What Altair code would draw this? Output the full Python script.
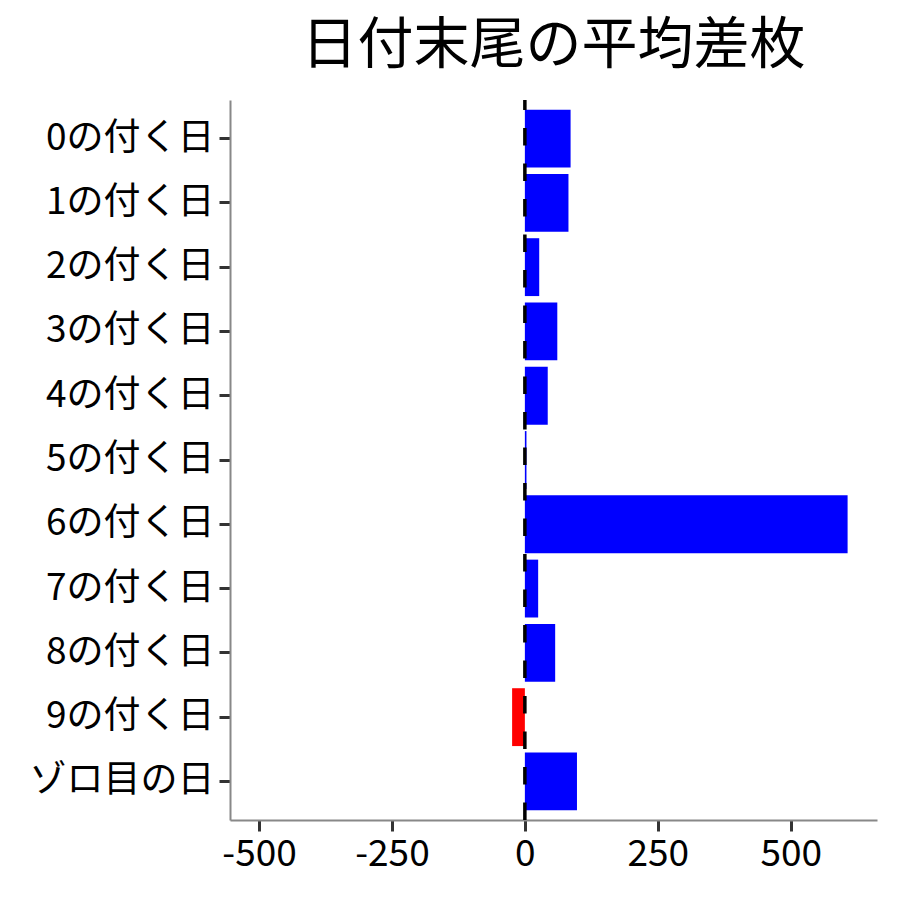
import altair as alt
import pandas as pd

categories = ["0の付く日", "1の付く日", "2の付く日", "3の付く日", "4の付く日",
              "5の付く日", "6の付く日", "7の付く日", "8の付く日", "9の付く日", "ゾロ目の日"]
values = [86, 82, 27, 61, 43, 3, 607, 25, 57, -24, 98]
x_ticks = [-500, -250, 0, 250, 500]

df = pd.DataFrame({"cat": categories, "val": values})
df["sign"] = ["pos" if v >= 0 else "neg" for v in values]

FONT = "Noto Sans CJK JP"
W, H = 647, 720

bars = alt.Chart(df).mark_bar().encode(
    y=alt.Y("cat:N", sort=categories,
            scale=alt.Scale(paddingInner=0.1, paddingOuter=0.15),
            axis=alt.Axis(title=None, labelFontSize=37, labelFont=FONT, labelColor="black",
                          tickColor="#333333", tickWidth=3, tickSize=11, labelPadding=5,
                          labelLimit=400,
                          domainColor="#888888", domainWidth=2, grid=False)),
    x=alt.X("val:Q", scale=alt.Scale(domain=[-554.6, 662.3], nice=False, zero=False),
            axis=alt.Axis(title=None, values=x_ticks, labelFontSize=37, labelFont=FONT,
                          labelColor="black", tickColor="#333333", tickWidth=3, tickSize=11,
                          labelPadding=5, domainColor="#888888", domainWidth=2, grid=False,
                          labelFlush=False, labelExpr="'' + datum.value")),
    color=alt.Color("sign:N", scale=alt.Scale(domain=["pos", "neg"], range=["#0000FF", "#FF0000"]),
                    legend=None),
)

rule = alt.Chart(pd.DataFrame({"z": [0]})).mark_rule(
    color="black", strokeWidth=3.5, strokeDash=[17.5, 18], strokeCap="butt"
).encode(x="z:Q", y=alt.value(H), y2=alt.value(0))

chart = alt.layer(bars, rule).properties(
    width=W, height=H,
    background="white",
    title=alt.TitleParams("日付末尾の平均差枚", fontSize=56, font=FONT, color="black",
                          fontWeight="normal", anchor="middle", offset=29, dy=50,
                          baseline="alphabetic"),
    autosize=alt.AutoSizeParams(type="none"),
    padding={"left": 222, "top": 92, "right": 15, "bottom": 72},
).configure_view(stroke=None, strokeWidth=0)

chart.save("out.html", embed_options={"renderer": "svg", "actions": False})
